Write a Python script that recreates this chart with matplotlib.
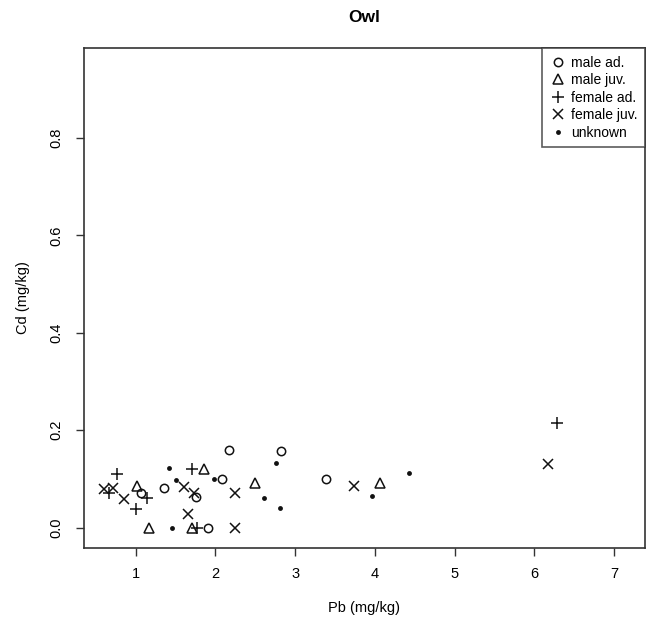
import matplotlib
matplotlib.use("Agg")
import matplotlib.pyplot as plt

plt.rcParams["font.family"] = ["Liberation Sans", "DejaVu Sans"]

# Pb / Cd (mg/kg) per group
male_ad_pb = [1.07, 1.35, 1.76, 1.91, 2.08, 2.17, 2.82, 3.39]
male_ad_cd = [0.071, 0.081, 0.063, 0.0, 0.100, 0.160, 0.158, 0.099]

male_juv_pb = [1.02, 1.16, 1.71, 1.86, 2.49, 4.07]
male_juv_cd = [0.085, 0.0, 0.0, 0.121, 0.092, 0.092]

female_ad_pb = [0.76, 0.66, 1.00, 1.14, 1.70, 1.77, 6.28]
female_ad_cd = [0.110, 0.071, 0.039, 0.061, 0.121, 0.0, 0.215]

female_juv_pb = [0.60, 0.71, 0.85, 1.61, 1.73, 1.66, 2.25, 2.25, 3.74, 6.17]
female_juv_cd = [0.080, 0.081, 0.059, 0.083, 0.071, 0.027, 0.070, 0.0, 0.086, 0.131]

unknown_pb = [1.42, 1.50, 1.46, 1.98, 2.61, 2.76, 2.81, 3.96, 4.43]
unknown_cd = [0.122, 0.098, 0.0, 0.100, 0.061, 0.133, 0.040, 0.064, 0.113]

fig = plt.figure(figsize=(6.49, 6.21), dpi=100)
# box: x 84..645 px, y 48..548 px
ax = fig.add_axes([0.1294, 0.1176, 0.8644, 0.8051])

kw = dict(ls="none", color="#111111")
ax.plot(male_ad_pb, male_ad_cd, marker="o", mfc="none", ms=6, mew=1.1, label="male ad.", **kw)
ax.plot(male_juv_pb, male_juv_cd, marker="^", mfc="none", ms=7.5, mew=1.1, label="male juv.", **kw)
ax.plot(female_ad_pb, female_ad_cd, marker="+", ms=9, mew=1.1, label="female ad.", **kw)
ax.plot(female_juv_pb, female_juv_cd, marker="x", ms=6.5, mew=1.1, label="female juv.", **kw)
ax.plot(unknown_pb, unknown_cd, marker="o", ms=3.5, mew=0, label="unknown", **kw)

ax.set_xlim(0.35, 7.39)
ax.set_ylim(-0.042, 0.985)
ax.set_xticks([1, 2, 3, 4, 5, 6, 7])
ax.set_yticks([0.0, 0.2, 0.4, 0.6, 0.8])
ax.set_yticklabels(["0.0", "0.2", "0.4", "0.6", "0.8"], rotation=90, va="center")
ax.tick_params(direction="out", length=5.8, width=1, labelsize=10.5, color="#333333")
ax.tick_params(axis="x", pad=8)
ax.tick_params(axis="y", pad=9)
for s in ax.spines.values():
    s.set_linewidth(1.2)
    s.set_color("#333333")

ax.set_title("Owl", fontsize=12.5, fontweight="bold", pad=19)
ax.set_xlabel("Pb (mg/kg)", fontsize=10.5, labelpad=14)
ax.set_ylabel("Cd (mg/kg)", fontsize=10.5, labelpad=14)

leg = ax.legend(loc="upper right", borderaxespad=0, fancybox=False, fontsize=10,
                handletextpad=0.3, handlelength=1.2, labelspacing=0.25,
                borderpad=0.55, edgecolor="#333333")
leg.get_frame().set_linewidth(1.2)

fig.savefig("out.png", dpi=100)
